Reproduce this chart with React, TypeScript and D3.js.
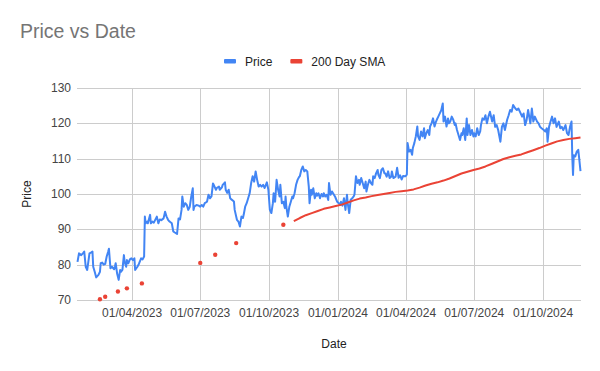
import React, { useRef, useEffect } from "react";
import * as d3 from "d3";

// price series (one row per month)
const priceDates = [
  "2023-01-18", "2023-01-20", "2023-01-23", "2023-01-26", "2023-01-27", "2023-01-29", "2023-01-31",
  "2023-02-03", "2023-02-05", "2023-02-07", "2023-02-08", "2023-02-10", "2023-02-12", "2023-02-15", "2023-02-17", "2023-02-18", "2023-02-20", "2023-02-22", "2023-02-24", "2023-02-26", "2023-02-28",
  "2023-03-01", "2023-03-03", "2023-03-05", "2023-03-08", "2023-03-09", "2023-03-10", "2023-03-12", "2023-03-14", "2023-03-16", "2023-03-17", "2023-03-19", "2023-03-21", "2023-03-22", "2023-03-24", "2023-03-25", "2023-03-27", "2023-03-29", "2023-03-31",
  "2023-04-02", "2023-04-04", "2023-04-05", "2023-04-08", "2023-04-10", "2023-04-13", "2023-04-15", "2023-04-17", "2023-04-18", "2023-04-19", "2023-04-21", "2023-04-22", "2023-04-25", "2023-04-26", "2023-04-28", "2023-04-30",
  "2023-05-04", "2023-05-06", "2023-05-08", "2023-05-10", "2023-05-13", "2023-05-15", "2023-05-17", "2023-05-19", "2023-05-21", "2023-05-24", "2023-05-26", "2023-05-28", "2023-05-31",
  "2023-06-02", "2023-06-04", "2023-06-06", "2023-06-07", "2023-06-09", "2023-06-11", "2023-06-13", "2023-06-15", "2023-06-17", "2023-06-19", "2023-06-21", "2023-06-22", "2023-06-23", "2023-06-26", "2023-06-29",
  "2023-07-01", "2023-07-03", "2023-07-05", "2023-07-07", "2023-07-10", "2023-07-12", "2023-07-14", "2023-07-16", "2023-07-18", "2023-07-19", "2023-07-22", "2023-07-23", "2023-07-26", "2023-07-27", "2023-07-30", "2023-07-31",
  "2023-08-03", "2023-08-04", "2023-08-06", "2023-08-08", "2023-08-10", "2023-08-12", "2023-08-15", "2023-08-16", "2023-08-19", "2023-08-21", "2023-08-23", "2023-08-25", "2023-08-27", "2023-08-28", "2023-08-30",
  "2023-09-01", "2023-09-03", "2023-09-05", "2023-09-07", "2023-09-09", "2023-09-11", "2023-09-13", "2023-09-15", "2023-09-17", "2023-09-19", "2023-09-21", "2023-09-23", "2023-09-25", "2023-09-28", "2023-09-30",
  "2023-10-02", "2023-10-04", "2023-10-06", "2023-10-07", "2023-10-09", "2023-10-11", "2023-10-13", "2023-10-15", "2023-10-16", "2023-10-18", "2023-10-20", "2023-10-22", "2023-10-23", "2023-10-24", "2023-10-26", "2023-10-28", "2023-10-30",
  "2023-11-01", "2023-11-02", "2023-11-04", "2023-11-06", "2023-11-08", "2023-11-10", "2023-11-11", "2023-11-13", "2023-11-15", "2023-11-17", "2023-11-19", "2023-11-21", "2023-11-23", "2023-11-24", "2023-11-26", "2023-11-27", "2023-11-29",
  "2023-12-01", "2023-12-03", "2023-12-04", "2023-12-06", "2023-12-08", "2023-12-10", "2023-12-12", "2023-12-13", "2023-12-15", "2023-12-17", "2023-12-19", "2023-12-20", "2023-12-22", "2023-12-24", "2023-12-26", "2023-12-28", "2023-12-29", "2023-12-31",
  "2024-01-02", "2024-01-04", "2024-01-05", "2024-01-07", "2024-01-09", "2024-01-11", "2024-01-13", "2024-01-14", "2024-01-16", "2024-01-18", "2024-01-20", "2024-01-22", "2024-01-23", "2024-01-25", "2024-01-27", "2024-01-29", "2024-01-30",
  "2024-02-01", "2024-02-03", "2024-02-05", "2024-02-07", "2024-02-08", "2024-02-10", "2024-02-12", "2024-02-14", "2024-02-16", "2024-02-17", "2024-02-19", "2024-02-21", "2024-02-23", "2024-02-24", "2024-02-26", "2024-02-28",
  "2024-03-01", "2024-03-03", "2024-03-04", "2024-03-06", "2024-03-08", "2024-03-10", "2024-03-12", "2024-03-13", "2024-03-15", "2024-03-18", "2024-03-20", "2024-03-22", "2024-03-24", "2024-03-26", "2024-03-28", "2024-03-31",
  "2024-04-02", "2024-04-03", "2024-04-05", "2024-04-07", "2024-04-09", "2024-04-10", "2024-04-12", "2024-04-14", "2024-04-16", "2024-04-17", "2024-04-19", "2024-04-21", "2024-04-23", "2024-04-25", "2024-04-26", "2024-04-28", "2024-04-30",
  "2024-05-02", "2024-05-03", "2024-05-05", "2024-05-07", "2024-05-09", "2024-05-11", "2024-05-12", "2024-05-14", "2024-05-16", "2024-05-18", "2024-05-20", "2024-05-21", "2024-05-23", "2024-05-25", "2024-05-27", "2024-05-28", "2024-05-30",
  "2024-06-01", "2024-06-03", "2024-06-05", "2024-06-06", "2024-06-08", "2024-06-10", "2024-06-12", "2024-06-14", "2024-06-15", "2024-06-17", "2024-06-19", "2024-06-21", "2024-06-22", "2024-06-24", "2024-06-26", "2024-06-28", "2024-06-30",
  "2024-07-01", "2024-07-03", "2024-07-05", "2024-07-07", "2024-07-09", "2024-07-10", "2024-07-12", "2024-07-14", "2024-07-16", "2024-07-18", "2024-07-20", "2024-07-22", "2024-07-25", "2024-07-27", "2024-07-29", "2024-07-31",
  "2024-08-02", "2024-08-05", "2024-08-07", "2024-08-09", "2024-08-11", "2024-08-14", "2024-08-16", "2024-08-18", "2024-08-20", "2024-08-22", "2024-08-25", "2024-08-27", "2024-08-29", "2024-08-31",
  "2024-09-03", "2024-09-05", "2024-09-07", "2024-09-09", "2024-09-11", "2024-09-14", "2024-09-16", "2024-09-18", "2024-09-20", "2024-09-23", "2024-09-25", "2024-09-27", "2024-09-29",
  "2024-10-02", "2024-10-04", "2024-10-06", "2024-10-07", "2024-10-09", "2024-10-11", "2024-10-13", "2024-10-15", "2024-10-17", "2024-10-19", "2024-10-22", "2024-10-24", "2024-10-26", "2024-10-28", "2024-10-31",
  "2024-11-02", "2024-11-04", "2024-11-06", "2024-11-08", "2024-11-09", "2024-11-10", "2024-11-11", "2024-11-13", "2024-11-15", "2024-11-17", "2024-11-18", "2024-11-20",
];

const priceValues = [
  80.8, 83.2, 82.7, 83.4, 83.7, 79.4, 78.5,
  83.2, 83.4, 83.7, 79.4, 78.0, 76.4, 77.1, 78.0, 80.4, 80.6, 80.0, 80.2, 82.3, 83.7,
  84.5, 79.0, 79.4, 78.7, 79.5, 80.4, 77.4, 75.7, 78.5, 78.0, 78.5, 82.7, 80.8, 79.4, 81.3, 80.4, 81.5, 81.8,
  81.3, 81.8, 78.5, 79.4, 80.2, 81.8, 81.5, 82.3, 93.6, 91.7, 92.2, 91.7, 94.1, 91.7, 92.2, 91.9,
  93.6, 91.7, 92.8, 92.6, 93.1, 95.0, 93.6, 92.7, 92.2, 91.7, 89.4, 89.1, 88.7,
  93.1, 92.8, 95.5, 99.3, 96.4, 97.4, 96.9, 95.5, 96.4, 99.3, 101.6, 95.5, 96.4, 96.9, 96.7,
  96.4, 96.9, 96.4, 97.4, 97.8, 99.8, 98.8, 99.3, 103.0, 102.6, 101.2, 101.7, 102.1, 101.2, 101.9, 102.6,
  103.3, 101.2, 100.3, 101.2, 98.8, 98.4, 97.9, 95.5, 92.7, 92.2, 90.8, 93.6, 93.2, 94.1, 96.4,
  97.4, 98.8, 100.2, 103.1, 105.0, 103.5, 106.4, 104.0, 102.1, 102.6, 102.1, 102.6, 101.7, 103.3, 101.2,
  95.5, 94.6, 97.4, 100.2, 97.8, 104.0, 101.2, 99.3, 102.6, 97.4, 97.8, 96.0, 99.3, 96.4, 93.6, 96.4, 97.8,
  99.3, 98.8, 100.2, 102.6, 104.0, 104.8, 105.0, 106.8, 107.8, 106.4, 106.8, 106.4, 102.1, 97.4, 101.2, 99.8, 101.6,
  98.8, 100.2, 99.5, 100.2, 98.8, 100.0, 99.3, 100.2, 99.3, 99.8, 98.3, 103.1, 99.8, 100.7, 100.0, 99.3, 98.8, 97.8,
  97.4, 96.9, 97.8, 96.7, 98.8, 95.5, 99.8, 97.4, 94.6, 98.4, 98.8, 99.3, 99.8, 105.0, 103.1, 104.0, 102.6,
  104.5, 103.1, 101.6, 103.5, 100.7, 102.6, 104.0, 103.1, 102.6, 105.0, 104.5, 105.9, 106.8, 105.4, 104.5, 106.8,
  107.3, 105.9, 105.9, 104.9, 106.4, 104.5, 104.9, 106.4, 104.5, 104.9, 107.4, 104.6, 105.3, 104.1, 105.1, 105.0,
  105.5, 114.4, 112.0, 112.5, 111.1, 113.0, 114.4, 116.3, 119.1, 116.3, 115.3, 117.7, 116.3, 118.6, 115.8, 117.2, 118.1,
  116.7, 119.1, 120.0, 121.4, 119.1, 120.5, 121.0, 121.9, 122.8, 123.7, 125.6, 120.5, 121.9, 119.1, 121.4, 120.0, 120.5,
  121.9, 121.0, 119.5, 120.0, 118.1, 116.7, 115.3, 117.2, 116.7, 118.6, 115.3, 121.4, 116.7, 119.5, 116.7, 118.1, 116.3,
  117.2, 116.3, 118.6, 116.7, 117.7, 119.5, 121.4, 121.0, 122.3, 120.0, 121.9, 123.3, 120.5, 122.3, 119.0, 119.5,
  118.1, 114.8, 119.0, 120.0, 118.1, 121.0, 122.3, 123.8, 123.3, 125.2, 124.2, 123.8, 124.2, 123.3,
  121.9, 122.8, 119.5, 120.9, 123.8, 120.0, 124.2, 120.5, 121.9, 120.5, 120.0, 119.0, 118.6,
  118.1, 117.7, 118.6, 114.8, 119.0, 120.5, 121.9, 120.0, 121.4, 119.0, 120.5, 118.6, 119.0, 118.1, 119.5,
  117.2, 116.7, 119.0, 120.5, 110.6, 105.4, 111.0, 110.6, 112.0, 112.5, 110.6, 106.5,
];

// 200 day SMA: empty cells (null) early on leave lone values, then a continuous run
const smaDates = [
  "2023-02-17", "2023-02-20", "2023-02-24", "2023-03-01", "2023-03-13", "2023-03-20", "2023-03-25", "2023-04-01", "2023-04-14", "2023-04-20",
  "2023-07-01", "2023-07-10", "2023-07-21", "2023-08-01", "2023-08-18", "2023-09-01", "2023-10-20", "2023-10-27",
  "2023-11-03", "2023-11-11", "2023-11-19", "2023-11-27", "2023-12-05", "2023-12-13", "2023-12-21", "2023-12-29",
  "2024-01-06", "2024-01-14", "2024-01-22", "2024-01-30", "2024-02-07", "2024-02-15", "2024-02-23",
  "2024-03-02", "2024-03-10", "2024-03-18", "2024-03-26", "2024-04-03", "2024-04-11", "2024-04-19", "2024-04-27",
  "2024-05-05", "2024-05-13", "2024-05-21", "2024-05-29", "2024-06-06", "2024-06-14", "2024-06-22", "2024-06-30",
  "2024-07-08", "2024-07-16", "2024-07-24", "2024-08-01", "2024-08-09", "2024-08-17", "2024-08-25",
  "2024-09-02", "2024-09-10", "2024-09-18", "2024-09-26", "2024-10-04", "2024-10-12", "2024-10-20", "2024-10-28",
  "2024-11-05", "2024-11-13", "2024-11-20",
];

const smaValues: (number | null)[] = [
  70.2, null, 70.9, null, 72.4, null, 73.3, null, 74.7, null,
  80.5, null, 82.8, null, 86.1, null, 91.3, null,
  92.3, 93.2, 94.0, 94.6, 95.2, 95.8, 96.2, 96.6,
  97.0, 97.6, 98.2, 98.7, 99.0, 99.4, 99.7,
  100.0, 100.3, 100.6, 100.8, 101.0, 101.3, 101.8, 102.4,
  102.9, 103.3, 103.8, 104.4, 105.1, 105.8, 106.3, 106.8,
  107.2, 107.8, 108.5, 109.2, 109.9, 110.4, 110.8,
  111.2, 111.8, 112.4, 113.0, 113.7, 114.3, 114.9, 115.3,
  115.6, 115.8, 116.0,
];

const yTicks = [70, 80, 90, 100, 110, 120, 130];
const xTickDates = ["2023-04-01", "2023-07-01", "2023-10-01", "2024-01-01", "2024-04-01", "2024-07-01", "2024-10-01"];

const FONT = "'Liberation Sans', Arial, sans-serif";

type Pt = { date: Date; value: number | null };

const App = () => {
  const svgRef = useRef<SVGSVGElement>(null);

  useEffect(() => {
    const svg = d3.select(svgRef.current);
    svg.selectAll("*").remove();

    const parse = d3.timeParse("%Y-%m-%d");
    const price: Pt[] = priceDates.map((d, i) => ({ date: parse(d) as Date, value: priceValues[i] }));
    const sma: Pt[] = smaDates.map((d, i) => ({ date: parse(d) as Date, value: smaValues[i] }));

    // plot area
    const left = 77, right = 581, top = 88, bottom = 300;

    const x = d3
      .scaleTime()
      .domain(d3.extent(price, (d) => d.date) as [Date, Date])
      .range([left + 0.5, right - 0.5]);
    const y = d3.scaleLinear().domain([70, 130]).range([bottom, top]);

    // gridlines
    svg
      .append("g")
      .selectAll("line")
      .data(yTicks)
      .join("line")
      .attr("x1", left)
      .attr("x2", right)
      .attr("y1", (d) => Math.round(y(d)) + 0.5)
      .attr("y2", (d) => Math.round(y(d)) + 0.5)
      .attr("stroke", "#cccccc");

    const xTicks = xTickDates.map((d) => parse(d) as Date);
    svg
      .append("g")
      .selectAll("line")
      .data(xTicks)
      .join("line")
      .attr("x1", (d) => Math.round(x(d)) + 0.5)
      .attr("x2", (d) => Math.round(x(d)) + 0.5)
      .attr("y1", top)
      .attr("y2", bottom)
      .attr("stroke", "#cccccc");

    // tick labels
    svg
      .append("g")
      .selectAll("text")
      .data(yTicks)
      .join("text")
      .attr("x", 71)
      .attr("y", (d) => y(d) + 4)
      .attr("text-anchor", "end")
      .attr("font-family", FONT)
      .attr("font-size", 12)
      .attr("fill", "#444444")
      .text((d) => d);

    const fmt = d3.timeFormat("%d/%m/%Y");
    svg
      .append("g")
      .selectAll("text")
      .data(xTicks)
      .join("text")
      .attr("x", (d) => x(d))
      .attr("y", 317)
      .attr("text-anchor", "middle")
      .attr("font-family", FONT)
      .attr("font-size", 12)
      .attr("fill", "#444444")
      .text((d) => fmt(d));

    // lines (gaps where a value is empty)
    const lineGen = d3
      .line<Pt>()
      .defined((d) => d.value != null)
      .x((d) => x(d.date))
      .y((d) => y(d.value as number));

    svg
      .append("path")
      .datum(price)
      .attr("d", lineGen)
      .attr("fill", "none")
      .attr("stroke", "#4285f4")
      .attr("stroke-width", 2)
      .attr("stroke-linejoin", "round");

    svg
      .append("path")
      .datum(sma)
      .attr("d", lineGen)
      .attr("fill", "none")
      .attr("stroke", "#ea4335")
      .attr("stroke-width", 2)
      .attr("stroke-linejoin", "round");

    // lone values (no defined neighbour) show up as dots
    const lone = sma.filter(
      (d, i) =>
        d.value != null &&
        (i === 0 || sma[i - 1].value == null) &&
        (i === sma.length - 1 || sma[i + 1].value == null)
    );
    svg
      .append("g")
      .selectAll("circle")
      .data(lone)
      .join("circle")
      .attr("cx", (d) => x(d.date))
      .attr("cy", (d) => y(d.value as number))
      .attr("r", 2.2)
      .attr("fill", "#ea4335");

    // title
    svg
      .append("text")
      .attr("x", 20)
      .attr("y", 38)
      .attr("font-family", FONT)
      .attr("font-size", 19.5)
      .attr("fill", "#757575")
      .text("Price vs Date");

    // legend
    const legend = svg.append("g");
    const items = [
      { name: "Price", color: "#4285f4" },
      { name: "200 Day SMA", color: "#ea4335" },
    ];
    let lx = 224;
    items.forEach((it) => {
      legend
        .append("rect")
        .attr("x", lx)
        .attr("y", 59)
        .attr("width", 12)
        .attr("height", 4.5)
        .attr("rx", 1)
        .attr("fill", it.color);
      const t = legend
        .append("text")
        .attr("x", lx + 21)
        .attr("y", 66)
        .attr("font-family", FONT)
        .attr("font-size", 12)
        .attr("fill", "#222222")
        .text(it.name);
      const w = (t.node() as SVGTextElement).getComputedTextLength();
      lx = lx + 21 + w + 18;
    });

    // axis titles
    svg
      .append("text")
      .attr("x", 334)
      .attr("y", 348)
      .attr("text-anchor", "middle")
      .attr("font-family", FONT)
      .attr("font-size", 12)
      .attr("fill", "#222222")
      .text("Date");

    svg
      .append("text")
      .attr("transform", `translate(31, ${(top + bottom) / 2}) rotate(-90)`)
      .attr("text-anchor", "middle")
      .attr("font-family", FONT)
      .attr("font-size", 12)
      .attr("fill", "#222222")
      .text("Price");
  }, []);

  return (
    <svg
      ref={svgRef}
      width={600}
      height={371}
      style={{ position: "absolute", left: 0, top: 0, background: "#ffffff" }}
    />
  );
};

export default App;
